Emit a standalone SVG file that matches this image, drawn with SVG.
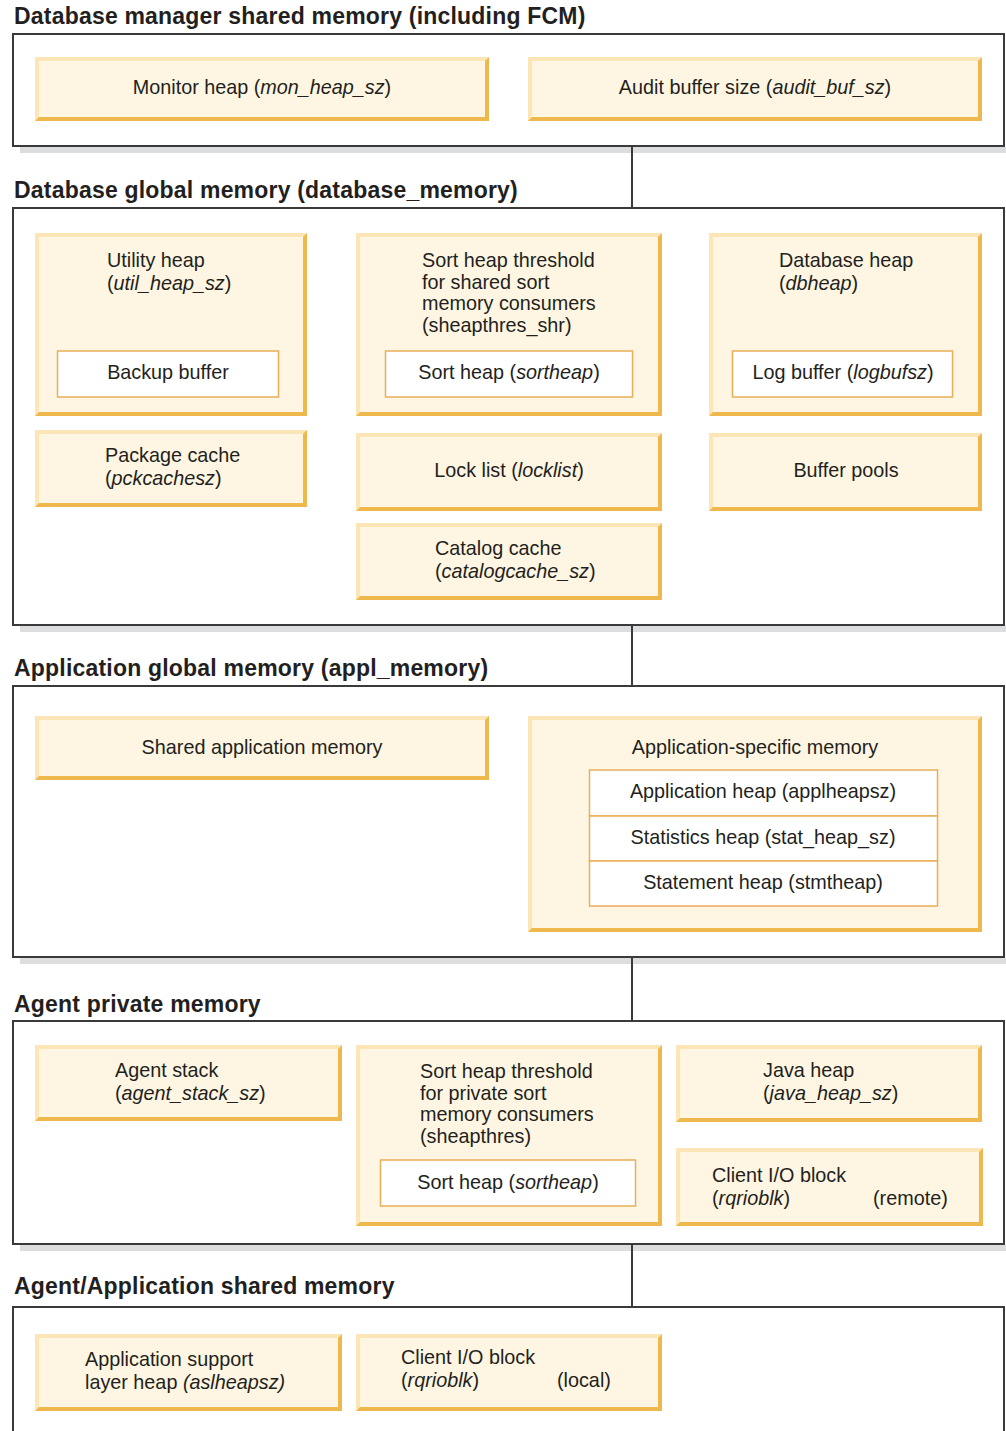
<svg xmlns="http://www.w3.org/2000/svg" width="1006" height="1431" viewBox="0 0 1006 1431">
  <style>
    text { font-family: "Liberation Sans", Arial, sans-serif; fill: #231f20; font-size: 19.8px; }
    .title { font-weight: bold; font-size: 23px; letter-spacing: 0.2px; }
    .mid { text-anchor: middle; }
    .it { font-style: italic; }
    .sec { fill: #ffffff; stroke: #3a3a3a; stroke-width: 2; }
    .shadow { fill: #dcdddf; }
    .dk { fill: #efb84c; }
    .lt { fill: #fce5b7; }
    .face { fill: #fef6e2; }
    .inner { fill: #ffffff; stroke: #e8ae58; stroke-width: 1.5; }
    .link { stroke: #3a3a3a; stroke-width: 2; fill: none; }
  </style>

  <!-- Database manager shared memory -->
  <g id="dbm-shared">
    <text class="title" x="14" y="24">Database manager shared memory (including FCM)</text>
    <rect class="shadow" x="20" y="147" width="986" height="6"/>
    <rect class="sec" x="13" y="34" width="991" height="112"/>
  </g>
  <g id="monitor-heap">
    <rect class="dk" x="35" y="57" width="454" height="64"/>
    <polygon class="lt" points="35,57 489,57 485,61 39,61 39,117 35,121"/>
    <rect class="face" x="39" y="61" width="446" height="56"/>
    <text class="mid" x="262" y="94">Monitor heap (<tspan class="it">mon_heap_sz</tspan>)</text>
  </g>
  <g id="audit-buffer">
    <rect class="dk" x="528" y="57" width="454" height="64"/>
    <polygon class="lt" points="528,57 982,57 978,61 532,61 532,117 528,121"/>
    <rect class="face" x="532" y="61" width="446" height="56"/>
    <text class="mid" x="755" y="94">Audit buffer size (<tspan class="it">audit_buf_sz</tspan>)</text>
  </g>

  <!-- Database global memory -->
  <g id="db-global">
    <text class="title" x="14" y="198">Database global memory (database_memory)</text>
    <rect class="shadow" x="20" y="626" width="986" height="6"/>
    <rect class="sec" x="13" y="208" width="991" height="417"/>
  </g>
  <g id="utility-heap">
    <rect class="dk" x="35" y="233" width="272" height="183"/>
    <polygon class="lt" points="35,233 307,233 303,237 39,237 39,412 35,416"/>
    <rect class="face" x="39" y="237" width="264" height="175"/>
    <text x="107" y="267">Utility heap</text>
    <text x="107" y="290">(<tspan class="it">util_heap_sz</tspan>)</text>
    <rect class="inner" x="57.5" y="351" width="221" height="46"/>
    <text class="mid" x="168" y="379">Backup buffer</text>
  </g>
  <g id="shared-sort">
    <rect class="dk" x="356" y="233" width="306" height="183"/>
    <polygon class="lt" points="356,233 662,233 658,237 360,237 360,412 356,416"/>
    <rect class="face" x="360" y="237" width="298" height="175"/>
    <text x="422" y="267">Sort heap threshold</text>
    <text x="422" y="289">for shared sort</text>
    <text x="422" y="310">memory consumers</text>
    <text x="422" y="332">(sheapthres_shr)</text>
    <rect class="inner" x="385.5" y="351" width="247" height="46"/>
    <text class="mid" x="509" y="379">Sort heap (<tspan class="it">sortheap</tspan>)</text>
  </g>
  <g id="database-heap">
    <rect class="dk" x="709" y="233" width="273" height="183"/>
    <polygon class="lt" points="709,233 982,233 978,237 713,237 713,412 709,416"/>
    <rect class="face" x="713" y="237" width="265" height="175"/>
    <text x="779" y="267">Database heap</text>
    <text x="779" y="290">(<tspan class="it">dbheap</tspan>)</text>
    <rect class="inner" x="732.5" y="351" width="220" height="46"/>
    <text class="mid" x="843" y="379">Log buffer (<tspan class="it">logbufsz</tspan>)</text>
  </g>
  <g id="package-cache">
    <rect class="dk" x="35" y="430" width="272" height="77"/>
    <polygon class="lt" points="35,430 307,430 303,434 39,434 39,503 35,507"/>
    <rect class="face" x="39" y="434" width="264" height="69"/>
    <text x="105" y="462">Package cache</text>
    <text x="105" y="485">(<tspan class="it">pckcachesz</tspan>)</text>
  </g>
  <g id="lock-list">
    <rect class="dk" x="356" y="433" width="306" height="78"/>
    <polygon class="lt" points="356,433 662,433 658,437 360,437 360,507 356,511"/>
    <rect class="face" x="360" y="437" width="298" height="70"/>
    <text class="mid" x="509" y="477">Lock list (<tspan class="it">locklist</tspan>)</text>
  </g>
  <g id="buffer-pools">
    <rect class="dk" x="709" y="433" width="273" height="78"/>
    <polygon class="lt" points="709,433 982,433 978,437 713,437 713,507 709,511"/>
    <rect class="face" x="713" y="437" width="265" height="70"/>
    <text class="mid" x="846" y="477">Buffer pools</text>
  </g>
  <g id="catalog-cache">
    <rect class="dk" x="356" y="523" width="306" height="77"/>
    <polygon class="lt" points="356,523 662,523 658,527 360,527 360,596 356,600"/>
    <rect class="face" x="360" y="527" width="298" height="69"/>
    <text x="435" y="555">Catalog cache</text>
    <text x="435" y="578">(<tspan class="it">catalogcache_sz</tspan>)</text>
  </g>

  <!-- Application global memory -->
  <g id="appl-global">
    <text class="title" x="14" y="676">Application global memory (appl_memory)</text>
    <rect class="shadow" x="20" y="958" width="986" height="6"/>
    <rect class="sec" x="13" y="686" width="991" height="271"/>
  </g>
  <g id="shared-app-memory">
    <rect class="dk" x="35" y="716" width="454" height="64"/>
    <polygon class="lt" points="35,716 489,716 485,720 39,720 39,776 35,780"/>
    <rect class="face" x="39" y="720" width="446" height="56"/>
    <text class="mid" x="262" y="754">Shared application memory</text>
  </g>
  <g id="app-specific-memory">
    <rect class="dk" x="528" y="716" width="454" height="216"/>
    <polygon class="lt" points="528,716 982,716 978,720 532,720 532,928 528,932"/>
    <rect class="face" x="532" y="720" width="446" height="208"/>
    <text class="mid" x="755" y="754">Application-specific memory</text>
    <rect class="inner" x="589.5" y="770" width="348" height="46"/>
    <rect class="inner" x="589.5" y="816" width="348" height="45"/>
    <rect class="inner" x="589.5" y="861" width="348" height="45"/>
    <text class="mid" x="763" y="798">Application heap (applheapsz)</text>
    <text class="mid" x="763" y="844">Statistics heap (stat_heap_sz)</text>
    <text class="mid" x="763" y="889">Statement heap (stmtheap)</text>
  </g>

  <!-- Agent private memory -->
  <g id="agent-private">
    <text class="title" x="14" y="1012">Agent private memory</text>
    <rect class="shadow" x="20" y="1245" width="986" height="6"/>
    <rect class="sec" x="13" y="1021" width="991" height="223"/>
  </g>
  <g id="agent-stack">
    <rect class="dk" x="35" y="1045" width="307" height="76"/>
    <polygon class="lt" points="35,1045 342,1045 338,1049 39,1049 39,1117 35,1121"/>
    <rect class="face" x="39" y="1049" width="299" height="68"/>
    <text x="115" y="1077">Agent stack</text>
    <text x="115" y="1100">(<tspan class="it">agent_stack_sz</tspan>)</text>
  </g>
  <g id="private-sort">
    <rect class="dk" x="356" y="1045" width="306" height="181"/>
    <polygon class="lt" points="356,1045 662,1045 658,1049 360,1049 360,1222 356,1226"/>
    <rect class="face" x="360" y="1049" width="298" height="173"/>
    <text x="420" y="1078">Sort heap threshold</text>
    <text x="420" y="1100">for private sort</text>
    <text x="420" y="1121">memory consumers</text>
    <text x="420" y="1143">(sheapthres)</text>
    <rect class="inner" x="380.5" y="1160" width="255" height="46"/>
    <text class="mid" x="508" y="1189">Sort heap (<tspan class="it">sortheap</tspan>)</text>
  </g>
  <g id="java-heap">
    <rect class="dk" x="676" y="1045" width="306" height="77"/>
    <polygon class="lt" points="676,1045 982,1045 978,1049 680,1049 680,1118 676,1122"/>
    <rect class="face" x="680" y="1049" width="298" height="69"/>
    <text x="763" y="1077">Java heap</text>
    <text x="763" y="1100">(<tspan class="it">java_heap_sz</tspan>)</text>
  </g>
  <g id="client-io-remote">
    <rect class="dk" x="676" y="1148" width="307" height="78"/>
    <polygon class="lt" points="676,1148 983,1148 979,1152 680,1152 680,1222 676,1226"/>
    <rect class="face" x="680" y="1152" width="299" height="70"/>
    <text x="712" y="1182">Client I/O block</text>
    <text x="712" y="1205">(<tspan class="it">rqrioblk</tspan>)</text>
    <text x="873" y="1205">(remote)</text>
  </g>

  <!-- Agent/Application shared memory -->
  <g id="agent-app-shared">
    <text class="title" x="14" y="1294">Agent/Application shared memory</text>
    <rect class="sec" x="13" y="1307" width="991" height="140"/>
  </g>
  <g id="asl-heap">
    <rect class="dk" x="35" y="1334" width="307" height="77"/>
    <polygon class="lt" points="35,1334 342,1334 338,1338 39,1338 39,1407 35,1411"/>
    <rect class="face" x="39" y="1338" width="299" height="69"/>
    <text x="85" y="1366">Application support</text>
    <text x="85" y="1389">layer heap <tspan class="it">(aslheapsz)</tspan></text>
  </g>
  <g id="client-io-local">
    <rect class="dk" x="356" y="1334" width="306" height="77"/>
    <polygon class="lt" points="356,1334 662,1334 658,1338 360,1338 360,1407 356,1411"/>
    <rect class="face" x="360" y="1338" width="298" height="69"/>
    <text x="401" y="1364">Client I/O block</text>
    <text x="401" y="1387">(<tspan class="it">rqrioblk</tspan>)</text>
    <text x="557" y="1387">(local)</text>
  </g>

  <!-- connectors between memory sets, drawn over the section shadows -->
  <g id="connectors">
    <line class="link" x1="632" y1="146" x2="632" y2="208"/>
    <line class="link" x1="632" y1="625" x2="632" y2="686"/>
    <line class="link" x1="632" y1="957" x2="632" y2="1021"/>
    <line class="link" x1="632" y1="1244" x2="632" y2="1307"/>
  </g>
</svg>
